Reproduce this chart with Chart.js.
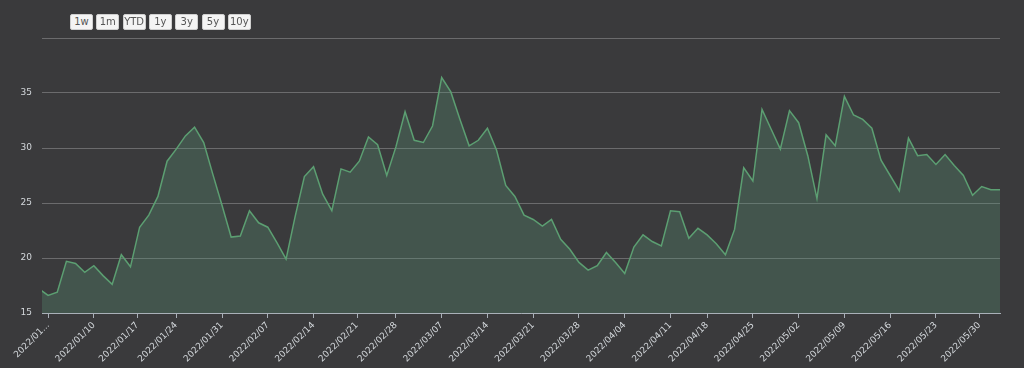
<!DOCTYPE html>
<html>
<head>
<meta charset="utf-8">
<script src="https://cdn.jsdelivr.net/npm/chart.js@4.4.1/dist/chart.umd.min.js"></script>
<style>
    html, body { margin: 0; padding: 0; background: #3a3a3c; }
    #wrap { position: relative; width: 1024px; height: 368px; }
    .range-btn {
        position: absolute; top: 14px; width: 23px; height: 16px; padding: 0;
        background: #f4f4f4; border: 1px solid #cfcfcf; border-radius: 2px;
        font: 10px "DejaVu Sans", sans-serif; color: #555; line-height: 14px; text-align: center;
    }
</style>
</head>
<body>
<div id="wrap">
    <canvas id="chart"></canvas>
</div>
<script>
var dates = [
    '2021/12/31',
    '2022/01/03', '2022/01/04', '2022/01/05', '2022/01/06', '2022/01/07',
    '2022/01/10', '2022/01/11', '2022/01/12', '2022/01/13', '2022/01/14',
    '2022/01/18', '2022/01/19', '2022/01/20', '2022/01/21',
    '2022/01/24', '2022/01/25', '2022/01/26', '2022/01/27', '2022/01/28',
    '2022/01/31', '2022/02/01', '2022/02/02', '2022/02/03', '2022/02/04',
    '2022/02/07', '2022/02/08', '2022/02/09', '2022/02/10', '2022/02/11',
    '2022/02/14', '2022/02/15', '2022/02/16', '2022/02/17', '2022/02/18',
    '2022/02/22', '2022/02/23', '2022/02/24', '2022/02/25',
    '2022/02/28', '2022/03/01', '2022/03/02', '2022/03/03', '2022/03/04',
    '2022/03/07', '2022/03/08', '2022/03/09', '2022/03/10', '2022/03/11',
    '2022/03/14', '2022/03/15', '2022/03/16', '2022/03/17', '2022/03/18',
    '2022/03/21', '2022/03/22', '2022/03/23', '2022/03/24', '2022/03/25',
    '2022/03/28', '2022/03/29', '2022/03/30', '2022/03/31', '2022/04/01',
    '2022/04/04', '2022/04/05', '2022/04/06', '2022/04/07', '2022/04/08',
    '2022/04/11', '2022/04/12', '2022/04/13', '2022/04/14',
    '2022/04/18', '2022/04/19', '2022/04/20', '2022/04/21', '2022/04/22',
    '2022/04/25', '2022/04/26', '2022/04/27', '2022/04/28', '2022/04/29',
    '2022/05/02', '2022/05/03', '2022/05/04', '2022/05/05', '2022/05/06',
    '2022/05/09', '2022/05/10', '2022/05/11', '2022/05/12', '2022/05/13',
    '2022/05/16', '2022/05/17', '2022/05/18', '2022/05/19', '2022/05/20',
    '2022/05/23', '2022/05/24', '2022/05/25', '2022/05/26', '2022/05/27',
    '2022/05/31', '2022/06/01', '2022/06/02'
];

var values = [
    17.2,
    16.6, 16.9, 19.7, 19.5, 18.7,
    19.3, 18.4, 17.6, 20.3, 19.2,
    22.8, 23.9, 25.6, 28.8,
    29.9, 31.1, 31.9, 30.5, 27.6,
    24.8, 21.9, 22.0, 24.3, 23.2,
    22.8, 21.4, 19.9, 23.8, 27.4,
    28.3, 25.8, 24.3, 28.1, 27.8,
    28.8, 31.0, 30.3, 27.5,
    30.1, 33.3, 30.7, 30.5, 32.0,
    36.4, 35.1, 32.6, 30.2, 30.7,
    31.8, 29.8, 26.6, 25.6, 23.9,
    23.5, 22.9, 23.5, 21.7, 20.8,
    19.6, 18.9, 19.3, 20.5, 19.6,
    18.6, 21.0, 22.1, 21.5, 21.1,
    24.3, 24.2, 21.8, 22.7,
    22.1, 21.3, 20.3, 22.6, 28.2,
    27.0, 33.5, 31.7, 29.9, 33.4,
    32.3, 29.3, 25.4, 31.2, 30.2,
    34.7, 33.0, 32.6, 31.8, 28.9,
    27.5, 26.1, 30.9, 29.3, 29.4,
    28.5, 29.4, 28.4, 27.5, 25.7,
    26.5, 26.2, 26.2
];

var tickDates = [
    '2022/01/03', '2022/01/10', '2022/01/17', '2022/01/24', '2022/01/31',
    '2022/02/07', '2022/02/14', '2022/02/21', '2022/02/28', '2022/03/07',
    '2022/03/14', '2022/03/21', '2022/03/28', '2022/04/04', '2022/04/11',
    '2022/04/18', '2022/04/25', '2022/05/02', '2022/05/09', '2022/05/16',
    '2022/05/23', '2022/05/30'
];

var rangeButtons = ['1w', '1m', 'YTD', '1y', '3y', '5y', '10y'];
var rangeStart = '2022/01/01';

// ordinal axis: a calendar day maps between its neighbouring trading days
function ordinalPos(day) {
    var t = new Date(day).getTime();
    for (var i = 0; i < dates.length - 1; i++) {
        var a = new Date(dates[i]).getTime();
        var b = new Date(dates[i + 1]).getTime();
        if (t >= a && t <= b) {
            return i + (t - a) / (b - a);
        }
    }
    return dates.length - 1;
}

function buildButtons() {
    var wrap = document.getElementById('wrap');
    for (var i = 0; i < rangeButtons.length; i++) {
        var btn = document.createElement('button');
        btn.className = 'range-btn';
        btn.style.left = (70 + i * 26.3) + 'px';
        btn.textContent = rangeButtons[i];
        wrap.appendChild(btn);
    }
}

var tickPositions = tickDates.map(ordinalPos);
var points = values.map(function(v, i) { return { x: i, y: v }; });

buildButtons();

var chart = new Chart(document.getElementById('chart'), {
    type: 'line',
    data: {
        datasets: [{
            data: points,
            borderColor: '#5c9f72',
            borderWidth: 1.5,
            backgroundColor: 'rgba(90, 150, 120, 0.3)',
            fill: 'start',
            tension: 0,
            pointRadius: 0
        }]
    },
    options: {
        responsive: true,
        maintainAspectRatio: false,
        animation: false,
        layout: { padding: { top: 38, right: 24, left: 0, bottom: 0 } },
        plugins: { legend: { display: false }, tooltip: { enabled: false } },
        scales: {
            x: {
                type: 'linear',
                min: ordinalPos(rangeStart),
                max: dates.length - 1,
                afterBuildTicks: function(scale) {
                    scale.ticks = tickPositions.map(function(p) { return { value: p }; });
                },
                afterFit: function(scale) { scale.height = 55; },
                ticks: {
                    autoSkip: false,
                    maxRotation: 45,
                    minRotation: 45,
                    padding: 2,
                    color: '#d4d8dc',
                    font: { family: 'DejaVu Sans', size: 9 },
                    callback: function(value, index) {
                        var label = tickDates[index];
                        return index === 0 ? label.slice(0, 7) + '...' : label;
                    }
                },
                grid: { drawOnChartArea: false, color: '#a9b0b8', tickLength: 5 },
                border: { color: '#a9b0b8', width: 1 }
            },
            y: {
                min: 15,
                max: 40,
                afterFit: function(scale) { scale.width = 42; },
                ticks: {
                    stepSize: 5,
                    padding: 10,
                    color: '#d4d8dc',
                    font: { family: 'DejaVu Sans', size: 9 },
                    callback: function(value) { return value === 40 ? '' : value; }
                },
                grid: { color: '#6b6b6d', drawTicks: false },
                border: { display: false }
            }
        }
    }
});
</script>
</body>
</html>
